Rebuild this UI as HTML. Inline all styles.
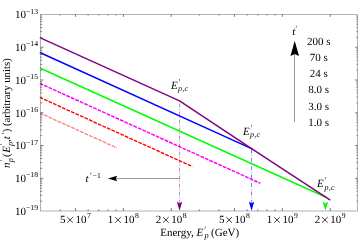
<!DOCTYPE html><html><head><meta charset="utf-8"><style>html,body{margin:0;padding:0;background:#fff;}svg{display:block;will-change:transform;}text{font-family:"Liberation Serif",serif;fill:#000;text-rendering:geometricPrecision;}</style></head><body>
<svg width="363" height="242" viewBox="0 0 363 242">
<rect width="363" height="242" fill="#fff"/>
<path d="M179.55,100.89V203" fill="none" stroke="#a030a0" stroke-width="0.6" stroke-dasharray="3.6 1.6 1.0 1.8" stroke-dashoffset="5.3"/>
<path d="M251.55,148.70V203" fill="none" stroke="#3030ff" stroke-width="0.65" stroke-dasharray="3.9 1.9 0.7 1.9" stroke-dashoffset="7.6"/>
<path d="M39.80,112.98L116.80,147.86" fill="none" stroke="#ff8080" stroke-width="1.35" stroke-dasharray="3.75 1.2" stroke-dashoffset="0.235"/>
<path d="M39.80,97.43L192.40,166.56" fill="none" stroke="#ff0000" stroke-width="1.4" stroke-dasharray="3.7 1.228" stroke-dashoffset="0.19"/>
<path d="M39.80,83.38L260.30,183.27" fill="none" stroke="#ff00ff" stroke-width="1.5" stroke-dasharray="3.75 1.154" stroke-dashoffset="0.165"/>
<path d="M39.8,67.98L325.4,197.00L326.9,197.98" fill="none" stroke="#00ff00" stroke-width="1.45" stroke-linejoin="round"/>
<path d="M39.8,52.48L251.55,148.70L253.05,149.68" fill="none" stroke="#0000ff" stroke-width="1.45" stroke-linejoin="round"/>
<path d="M39.8,37.58L179.55,100.89L251.55,148.70L330.3,200.20" fill="none" stroke="#800080" stroke-width="1.45" stroke-linejoin="round"/>
<rect x="40.5" y="14.5" width="317.00" height="196.50" fill="none" stroke="#666" stroke-width="0.5"/>
<path d="M40.5,201.14h1.7M357.5,201.14h-1.1M40.5,195.37h1.7M357.5,195.37h-1.1M40.5,191.28h1.7M357.5,191.28h-1.1M40.5,188.11h1.7M357.5,188.11h-1.1M40.5,185.52h1.7M357.5,185.52h-1.1M40.5,183.32h1.7M357.5,183.32h-1.1M40.5,181.42h1.7M357.5,181.42h-1.1M40.5,179.75h1.7M357.5,179.75h-1.1M40.5,178.25h3.0M357.5,178.25h-2.4M40.5,168.39h1.7M357.5,168.39h-1.1M40.5,162.62h1.7M357.5,162.62h-1.1M40.5,158.53h1.7M357.5,158.53h-1.1M40.5,155.36h1.7M357.5,155.36h-1.1M40.5,152.77h1.7M357.5,152.77h-1.1M40.5,150.57h1.7M357.5,150.57h-1.1M40.5,148.67h1.7M357.5,148.67h-1.1M40.5,147.00h1.7M357.5,147.00h-1.1M40.5,145.50h3.0M357.5,145.50h-2.4M40.5,135.64h1.7M357.5,135.64h-1.1M40.5,129.87h1.7M357.5,129.87h-1.1M40.5,125.78h1.7M357.5,125.78h-1.1M40.5,122.61h1.7M357.5,122.61h-1.1M40.5,120.02h1.7M357.5,120.02h-1.1M40.5,117.82h1.7M357.5,117.82h-1.1M40.5,115.92h1.7M357.5,115.92h-1.1M40.5,114.25h1.7M357.5,114.25h-1.1M40.5,112.75h3.0M357.5,112.75h-2.4M40.5,102.89h1.7M357.5,102.89h-1.1M40.5,97.12h1.7M357.5,97.12h-1.1M40.5,93.03h1.7M357.5,93.03h-1.1M40.5,89.86h1.7M357.5,89.86h-1.1M40.5,87.27h1.7M357.5,87.27h-1.1M40.5,85.07h1.7M357.5,85.07h-1.1M40.5,83.17h1.7M357.5,83.17h-1.1M40.5,81.50h1.7M357.5,81.50h-1.1M40.5,80.00h3.0M357.5,80.00h-2.4M40.5,70.14h1.7M357.5,70.14h-1.1M40.5,64.37h1.7M357.5,64.37h-1.1M40.5,60.28h1.7M357.5,60.28h-1.1M40.5,57.11h1.7M357.5,57.11h-1.1M40.5,54.52h1.7M357.5,54.52h-1.1M40.5,52.32h1.7M357.5,52.32h-1.1M40.5,50.42h1.7M357.5,50.42h-1.1M40.5,48.75h1.7M357.5,48.75h-1.1M40.5,47.25h3.0M357.5,47.25h-2.4M40.5,37.39h1.7M357.5,37.39h-1.1M40.5,31.62h1.7M357.5,31.62h-1.1M40.5,27.53h1.7M357.5,27.53h-1.1M40.5,24.36h1.7M357.5,24.36h-1.1M40.5,21.77h1.7M357.5,21.77h-1.1M40.5,19.57h1.7M357.5,19.57h-1.1M40.5,17.67h1.7M357.5,17.67h-1.1M40.5,16.00h1.7M357.5,16.00h-1.1M60.13,211.0v-1.7M60.13,14.5v1.1M75.54,211.0v-3.0M75.54,14.5v2.4M88.13,211.0v-1.7M88.13,14.5v1.1M98.77,211.0v-1.7M98.77,14.5v1.1M107.99,211.0v-1.7M107.99,14.5v1.1M116.12,211.0v-1.7M116.12,14.5v1.1M123.40,211.0v-3.0M123.40,14.5v2.4M171.26,211.0v-3.0M171.26,14.5v2.4M199.26,211.0v-1.7M199.26,14.5v1.1M219.13,211.0v-1.7M219.13,14.5v1.1M234.54,211.0v-3.0M234.54,14.5v2.4M247.13,211.0v-1.7M247.13,14.5v1.1M257.77,211.0v-1.7M257.77,14.5v1.1M266.99,211.0v-1.7M266.99,14.5v1.1M275.12,211.0v-1.7M275.12,14.5v1.1M282.40,211.0v-3.0M282.40,14.5v2.4M330.26,211.0v-3.0M330.26,14.5v2.4" fill="none" stroke="#000" stroke-width="0.5"/>
<text x="14.9" y="18.35" font-size="11">10</text>
<text x="26.0" y="13.55" font-size="7.7">−13</text>
<text x="14.9" y="51.10" font-size="11">10</text>
<text x="26.0" y="46.30" font-size="7.7">−14</text>
<text x="14.9" y="83.85" font-size="11">10</text>
<text x="26.0" y="79.05" font-size="7.7">−15</text>
<text x="14.9" y="116.60" font-size="11">10</text>
<text x="26.0" y="111.80" font-size="7.7">−16</text>
<text x="14.9" y="149.35" font-size="11">10</text>
<text x="26.0" y="144.55" font-size="7.7">−17</text>
<text x="14.9" y="182.10" font-size="11">10</text>
<text x="26.0" y="177.30" font-size="7.7">−18</text>
<text x="14.9" y="214.85" font-size="11">10</text>
<text x="26.0" y="210.05" font-size="7.7">−19</text>
<text x="59.94" y="222.8" font-size="11">5</text>
<path d="M67.34,217.10L72.94,222.70M67.34,222.70L72.94,217.10" stroke="#000" stroke-width="0.75" fill="none"/>
<text x="75.54" y="222.8" font-size="11">10</text>
<text x="87.04" y="218.0" font-size="7.7">7</text>
<text x="107.80" y="222.8" font-size="11">1</text>
<path d="M115.20,217.10L120.80,222.70M115.20,222.70L120.80,217.10" stroke="#000" stroke-width="0.75" fill="none"/>
<text x="123.40" y="222.8" font-size="11">10</text>
<text x="134.90" y="218.0" font-size="7.7">8</text>
<text x="155.66" y="222.8" font-size="11">2</text>
<path d="M163.06,217.10L168.66,222.70M163.06,222.70L168.66,217.10" stroke="#000" stroke-width="0.75" fill="none"/>
<text x="171.26" y="222.8" font-size="11">10</text>
<text x="182.76" y="218.0" font-size="7.7">8</text>
<text x="218.94" y="222.8" font-size="11">5</text>
<path d="M226.34,217.10L231.94,222.70M226.34,222.70L231.94,217.10" stroke="#000" stroke-width="0.75" fill="none"/>
<text x="234.54" y="222.8" font-size="11">10</text>
<text x="246.04" y="218.0" font-size="7.7">8</text>
<text x="266.80" y="222.8" font-size="11">1</text>
<path d="M274.20,217.10L279.80,222.70M274.20,222.70L279.80,217.10" stroke="#000" stroke-width="0.75" fill="none"/>
<text x="282.40" y="222.8" font-size="11">10</text>
<text x="293.90" y="218.0" font-size="7.7">9</text>
<text x="314.66" y="222.8" font-size="11">2</text>
<path d="M322.06,217.10L327.66,222.70M322.06,222.70L327.66,217.10" stroke="#000" stroke-width="0.75" fill="none"/>
<text x="330.26" y="222.8" font-size="11">10</text>
<text x="341.76" y="218.0" font-size="7.7">9</text>
<text x="160.2" y="235.6" font-size="11">Energy, <tspan font-style="italic">E</tspan></text>
<text x="204.5" y="238.2" font-size="8.2" font-style="italic">p</text>
<path d="M204.95,226.40L205.52,226.40L204.95,229.80L204.68,229.80Z" fill="#000"/>
<text x="211.1" y="235.6" font-size="11">(GeV)</text>
<g transform="translate(10.4,167.9) rotate(-90)">
<text x="0" y="0" font-size="11" font-style="italic">n</text>
<text x="5.7" y="2.5" font-size="8.2" font-style="italic">p</text>
<path d="M7.25,-10.60L7.82,-10.60L7.25,-8.10L6.98,-8.10Z" fill="#000"/>
<text x="11.0" y="0" font-size="11">(</text>
<text x="15.1" y="0" font-size="11" font-style="italic">E</text>
<text x="21.9" y="2.5" font-size="8.2" font-style="italic">p</text>
<path d="M23.15,-10.60L23.72,-10.60L23.15,-8.10L22.88,-8.10Z" fill="#000"/>
<text x="25.9" y="0" font-size="11">,</text>
<text x="28.7" y="0" font-size="11" font-style="italic">t</text>
<path d="M34.25,-8.60L34.82,-8.60L34.25,-6.10L33.98,-6.10Z" fill="#000"/>
<text x="35.6" y="0" font-size="10.75">) (arbitrary units)</text>
</g>
<text x="318.7" y="44.80" font-size="11" text-anchor="middle">200 s</text>
<text x="318.7" y="61.00" font-size="11" text-anchor="middle">70 s</text>
<text x="318.7" y="77.20" font-size="11" text-anchor="middle">24 s</text>
<text x="318.7" y="93.40" font-size="11" text-anchor="middle">8.0 s</text>
<text x="318.7" y="109.60" font-size="11" text-anchor="middle">3.0 s</text>
<text x="318.7" y="125.80" font-size="11" text-anchor="middle">1.0 s</text>
<path d="M294.5,122.2V54" fill="none" stroke="#555" stroke-width="0.6"/>
<path d="M294.7,40.7L299,56.1L294.7,54.0L290.5,56.1Z" fill="#000"/>
<text x="292.2" y="34.6" font-size="11" font-style="italic">t</text>
<path d="M296.05,25.70L296.62,25.70L296.05,28.40L295.78,28.40Z" fill="#000"/>
<path d="M179.4,178.5H116" fill="none" stroke="#555" stroke-width="0.6"/>
<path d="M107.9,178.5L117.2,175.8L115.8,178.5L117.2,181.2Z" fill="#000"/>
<text x="85.6" y="182.3" font-size="11" font-style="italic">t</text>
<path d="M90.75,172.30L91.32,172.30L90.75,175.10L90.48,175.10Z" fill="#000"/>
<text x="92.6" y="177.7" font-size="7.7">−1</text>
<path d="M179.55,210.8L182.25,201.7L179.55,203.2L176.85000000000002,201.7Z" fill="#800080"/>
<path d="M251.55,210.8L254.25,201.7L251.55,203.2L248.85000000000002,201.7Z" fill="#0000ff"/>
<path d="M325.4,210.8L328.09999999999997,201.7L325.4,203.2L322.7,201.7Z" fill="#00ff00"/>
<text x="171.0" y="89.0" font-size="11" font-style="italic">E</text>
<text x="178.0" y="91.1" font-size="8.1" font-style="italic" letter-spacing="0.2">p,c</text>
<path d="M179.45,79.00L180.02,79.00L179.45,81.40L179.18,81.40Z" fill="#000"/>
<text x="243.1" y="134.8" font-size="11" font-style="italic">E</text>
<text x="250.1" y="136.9" font-size="8.1" font-style="italic" letter-spacing="0.2">p,c</text>
<path d="M251.55,124.80L252.12,124.80L251.55,127.20L251.28,127.20Z" fill="#000"/>
<text x="317.0" y="187.0" font-size="11" font-style="italic">E</text>
<text x="324.5" y="189.5" font-size="8.1" font-style="italic" letter-spacing="0.2">p,c</text>
<path d="M325.45,177.00L326.02,177.00L325.45,179.40L325.18,179.40Z" fill="#000"/>
</svg></body></html>
